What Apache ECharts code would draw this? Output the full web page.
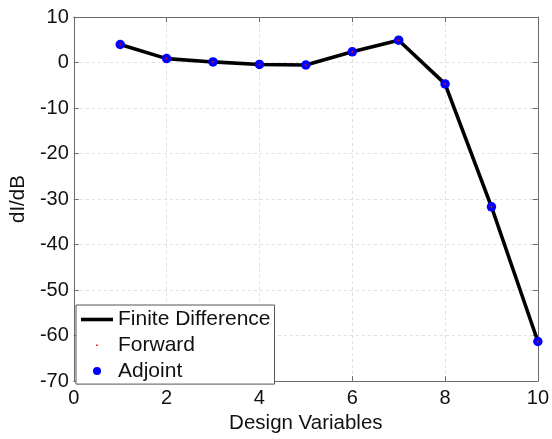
<!DOCTYPE html>
<html>
<head>
<meta charset="utf-8">
<script src="https://cdn.jsdelivr.net/npm/echarts@6/dist/echarts.min.js"></script>
<style>
html,body{margin:0;padding:0;background:#fff;}
#chart{width:552px;height:439px;}
</style>
</head>
<body>
<div id="chart"></div>
<script>
const designVars = [1, 2, 3, 4, 5, 6, 7, 8, 9, 10];
const finiteDiff = [3.96, 0.86, 0.13, -0.43, -0.55, 2.35, 4.9, -4.7, -31.7, -61.3];
const forward    = [3.96, 0.86, 0.13, -0.43, -0.55, 2.35, 4.9, -4.7, -31.7, -61.3];
const adjoint    = [3.96, 0.86, 0.13, -0.43, -0.55, 2.35, 4.9, -4.7, -31.7, -61.3];
const seriesNames = ['Finite Difference', 'Forward', 'Adjoint'];
const xTitle = 'Design Variables';
const yTitle = 'dI/dB';

const FONT = '"Liberation Sans", Arial, sans-serif';
const pair = arr => designVars.map((x, i) => [x, arr[i]]);

const chart = echarts.init(document.getElementById('chart'), null, {renderer: 'canvas'});
const axisLineStyle = {color: '#6b6b6b', width: 1};
const gridLine = {show: true, lineStyle: {color: '#e0e0e0', type: [3, 3], width: 1}};

chart.setOption({
  animation: false,
  backgroundColor: '#fff',
  grid: {left: 71, top: 17, right: 11, bottom: 52, containLabel: false},
  xAxis: [{
    type: 'value', min: 0, max: 10, interval: 2,
    name: xTitle, nameLocation: 'middle', nameGap: 27,
    nameTextStyle: {fontFamily: FONT, fontSize: 20.5, color: '#111'},
    axisLine: {show: true, onZero: false, lineStyle: axisLineStyle},
    axisTick: {show: true, inside: true, length: 5, lineStyle: axisLineStyle},
    axisLabel: {fontFamily: FONT, fontSize: 20, color: '#111', margin: 7},
    splitLine: gridLine
  }, {
    type: 'value', min: 0, max: 10, interval: 2, position: 'top',
    axisLine: {show: true, onZero: false, lineStyle: axisLineStyle},
    axisTick: {show: true, inside: true, length: 5, lineStyle: axisLineStyle},
    axisLabel: {show: false}, splitLine: {show: false}
  }],
  yAxis: [{
    type: 'value', min: -70, max: 10, interval: 10,
    name: yTitle, nameLocation: 'middle', nameGap: 42, nameRotate: 90,
    nameTextStyle: {fontFamily: FONT, fontSize: 20.5, color: '#111'},
    axisLine: {show: true, onZero: false, lineStyle: axisLineStyle},
    axisTick: {show: true, inside: true, length: 5, lineStyle: axisLineStyle},
    axisLabel: {fontFamily: FONT, fontSize: 20, color: '#111', margin: 5},
    splitLine: gridLine
  }, {
    type: 'value', min: -70, max: 10, interval: 10, position: 'right',
    axisLine: {show: true, onZero: false, lineStyle: axisLineStyle},
    axisTick: {show: true, inside: true, length: 5, lineStyle: axisLineStyle},
    axisLabel: {show: false}, splitLine: {show: false}
  }],
  legend: {
    orient: 'vertical', left: 76, top: 305,
    padding: [4, 4, 2.5, 5],
    itemWidth: 32, itemHeight: 8, itemGap: 4.8,
    borderColor: '#555', borderWidth: 1, backgroundColor: '#fff',
    textStyle: {fontFamily: FONT, fontSize: 21, color: '#111', lineHeight: 20.5},
    selectedMode: false,
    data: [
      {name: seriesNames[0], icon: 'path://M0,0M32,8M0,2.2h32v3.6h-32z', itemStyle: {color: '#000', borderWidth: 0}},
      {name: seriesNames[1], icon: 'path://M0,0M8,8M3.2,3.2h1.6v1.6h-1.6z', itemStyle: {color: '#ff0000', borderWidth: 0}},
      {name: seriesNames[2], icon: 'circle', itemStyle: {color: '#0000ff', opacity: 1}}
    ]
  },
  series: [{
    name: seriesNames[0], type: 'line', data: pair(finiteDiff),
    symbol: 'none', lineStyle: {color: '#000', width: 3.6}, itemStyle: {color: '#000'},
    z: 2
  }, {
    name: seriesNames[1], type: 'scatter', data: pair(forward),
    symbol: 'circle', symbolSize: 2, itemStyle: {color: '#ff0000', opacity: 1}, z: 4
  }, {
    name: seriesNames[2], type: 'scatter', data: pair(adjoint),
    symbol: 'circle', symbolSize: 9.5, itemStyle: {color: '#0000ff', opacity: 1}, z: 3
  }]
});
</script>
</body>
</html>
